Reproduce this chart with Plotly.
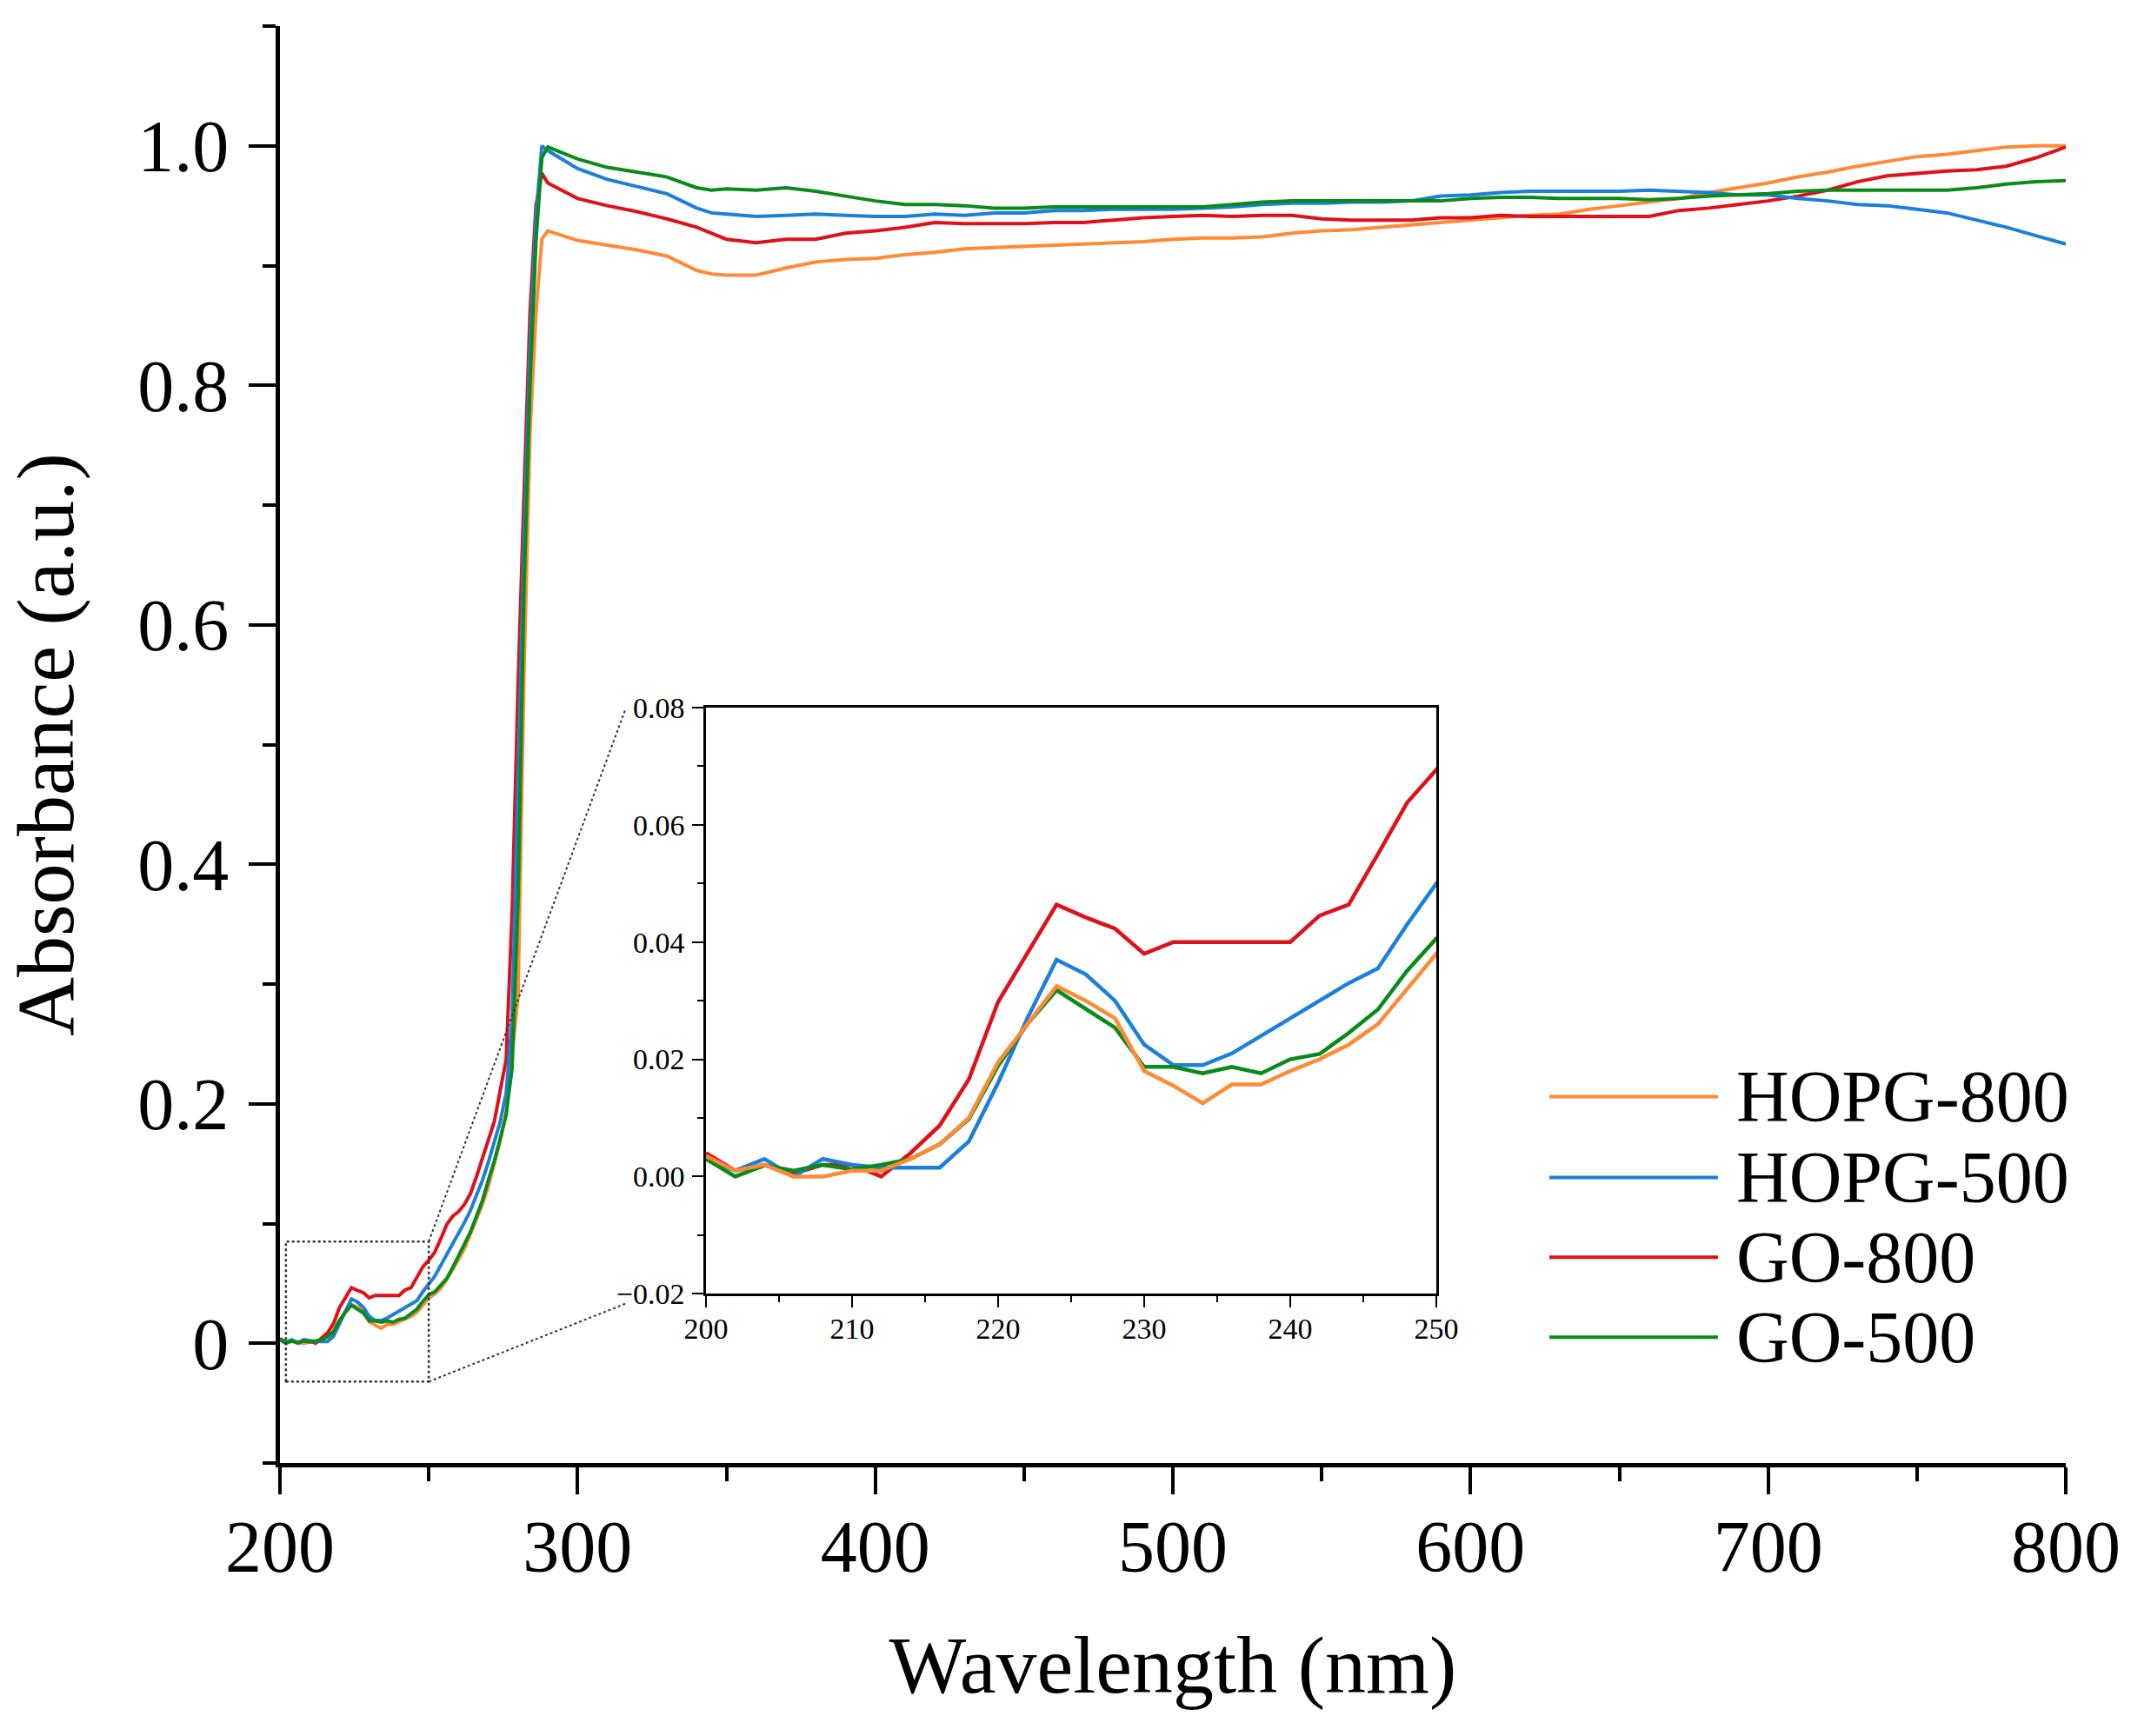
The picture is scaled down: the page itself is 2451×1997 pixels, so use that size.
import plotly.graph_objects as go

# ---------------- data ----------------
wavelength = [200, 202, 204, 206, 208, 210, 212, 214, 216, 218, 220, 222, 224, 226, 228,
              230, 232, 234, 236, 238, 240, 242, 244, 246, 248, 250,
              252, 254, 256, 258, 260, 262, 264, 266, 268, 270, 272, 274, 276, 278, 280,
              282, 284, 286, 288, 290,
              300, 310, 320, 330, 340, 345, 350, 360, 370, 380, 390, 400, 410, 420, 430,
              440, 450, 460, 470, 480, 490, 500, 510, 520, 530, 540, 550, 560, 570, 580,
              590, 600, 610, 620, 630, 640, 650, 660, 670, 680, 690, 700, 710, 720, 730,
              740, 750, 760, 770, 780, 790, 800]

hopg_800 = [0.0035, 0.001, 0.002, 0.000, 0.000, 0.001, 0.001, 0.003, 0.0055, 0.010, 0.0195,
            0.026, 0.0325, 0.030, 0.027, 0.018, 0.0155, 0.0125, 0.0157, 0.0157, 0.018, 0.020,
            0.0225, 0.026, 0.032, 0.038,
            0.041, 0.046, 0.053, 0.061, 0.070, 0.079, 0.091, 0.103, 0.116, 0.131, 0.149,
            0.169, 0.192, 0.24, 0.29, 0.56, 0.76, 0.86, 0.922, 0.929,
            0.921, 0.917, 0.913, 0.908, 0.896, 0.893, 0.892, 0.892, 0.898, 0.903, 0.905,
            0.906, 0.909, 0.911, 0.914, 0.915, 0.916, 0.917, 0.918, 0.919, 0.920, 0.922,
            0.923, 0.923, 0.924, 0.927, 0.929, 0.930, 0.932, 0.934, 0.936, 0.938, 0.940,
            0.942, 0.943, 0.947, 0.950, 0.953, 0.956, 0.961, 0.965, 0.969, 0.974, 0.978,
            0.983, 0.987, 0.991, 0.993, 0.996, 0.999, 1.000, 1.000]

hopg_500 = [0.003, 0.001, 0.003, 0.000, 0.003, 0.002, 0.0015, 0.0015, 0.0015, 0.006, 0.016,
            0.027, 0.037, 0.0345, 0.030, 0.0225, 0.019, 0.019, 0.021, 0.024, 0.027, 0.030,
            0.033, 0.0355, 0.043, 0.050,
            0.056, 0.065, 0.074, 0.083, 0.091, 0.101, 0.111, 0.123, 0.136, 0.151, 0.167,
            0.185, 0.209, 0.27, 0.47, 0.67, 0.83, 0.94, 1.000, 0.996,
            0.981, 0.972, 0.966, 0.960, 0.948, 0.944, 0.943, 0.941, 0.942, 0.943, 0.942,
            0.941, 0.941, 0.943, 0.942, 0.944, 0.944, 0.946, 0.946, 0.947, 0.947, 0.947,
            0.948, 0.949, 0.951, 0.952, 0.952, 0.953, 0.953, 0.954, 0.958, 0.959, 0.961,
            0.962, 0.962, 0.962, 0.962, 0.963, 0.962, 0.961, 0.959, 0.959, 0.956, 0.954,
            0.951, 0.950, 0.947, 0.944, 0.938, 0.932, 0.925, 0.918]

go_800 = [0.004, 0.001, 0.002, 0.0005, 0.002, 0.002, 0.000, 0.004, 0.0087, 0.0166, 0.0298,
          0.038, 0.0464, 0.0442, 0.0423, 0.038, 0.040, 0.040, 0.040, 0.040, 0.040, 0.0445,
          0.0464, 0.055, 0.0638, 0.0694,
          0.076, 0.087, 0.099, 0.106, 0.110, 0.116, 0.125, 0.139, 0.154, 0.169, 0.185,
          0.211, 0.237, 0.36, 0.55, 0.71, 0.86, 0.95, 0.977, 0.969,
          0.956, 0.950, 0.945, 0.939, 0.932, 0.927, 0.922, 0.919, 0.922, 0.922, 0.927,
          0.929, 0.932, 0.936, 0.935, 0.935, 0.935, 0.936, 0.936, 0.938, 0.940, 0.941,
          0.942, 0.941, 0.942, 0.942, 0.939, 0.938, 0.938, 0.938, 0.940, 0.940, 0.942,
          0.941, 0.941, 0.941, 0.941, 0.941, 0.946, 0.948, 0.951, 0.954, 0.958, 0.963,
          0.970, 0.975, 0.977, 0.979, 0.980, 0.983, 0.990, 0.999]

go_500 = [0.003, 0.000, 0.0019, 0.001, 0.002, 0.0012, 0.002, 0.003, 0.0055, 0.0098, 0.0189,
          0.026, 0.0318, 0.0285, 0.0254, 0.0187, 0.0187, 0.0176, 0.0187, 0.0176, 0.020,
          0.0209, 0.0245, 0.0285, 0.0351, 0.0406,
          0.043, 0.048, 0.054, 0.063, 0.073, 0.083, 0.093, 0.106, 0.119, 0.136, 0.152,
          0.171, 0.191, 0.23, 0.37, 0.63, 0.80, 0.92, 0.99, 0.999,
          0.989, 0.982, 0.978, 0.974, 0.965, 0.963, 0.964, 0.963, 0.965, 0.962, 0.958,
          0.954, 0.951, 0.951, 0.950, 0.948, 0.948, 0.949, 0.949, 0.949, 0.949, 0.949,
          0.949, 0.951, 0.953, 0.954, 0.954, 0.954, 0.954, 0.954, 0.954, 0.956, 0.957,
          0.957, 0.956, 0.956, 0.956, 0.955, 0.956, 0.958, 0.959, 0.960, 0.962, 0.963,
          0.963, 0.963, 0.963, 0.963, 0.965, 0.968, 0.970, 0.971]

series_names = ["HOPG-800", "HOPG-500", "GO-800", "GO-500"]
series_values = [hopg_800, hopg_500, go_800, go_500]
series_colors = ["#FF8A35", "#1C7FDC", "#E0101A", "#0A8A1A"]

main_xticks = [200, 300, 400, 500, 600, 700, 800]
main_yticks = [0, 0.2, 0.4, 0.6, 0.8, 1.0]
main_yticklabels = ["0", "0.2", "0.4", "0.6", "0.8", "1.0"]
inset_xticks = [200, 210, 220, 230, 240, 250]
inset_yticks = [-0.02, 0.00, 0.02, 0.04, 0.06, 0.08]

# ---------------- figure geometry (page body margin removed) ----------------
W, H = 2451, 1997
ML, MR, MT, MB = 322, 75, 28, 314
PW, PH = W - ML - MR, H - MT - MB


def px_x(p):
    """image x pixel -> paper fraction"""
    return (p - ML) / PW


def px_y(p):
    """image y pixel -> paper fraction"""
    return (H - MB - p) / PH


FONT = "Liberation Serif, Times New Roman, serif"

fig = go.Figure()

for i in [0, 2, 1, 3]:
    fig.add_trace(go.Scatter(x=wavelength, y=series_values[i], mode="lines",
                             name=series_names[i], showlegend=False,
                             line=dict(color=series_colors[i], width=4),
                             xaxis="x", yaxis="y"))
for i in [2, 1, 3, 0]:
    fig.add_trace(go.Scatter(x=wavelength, y=series_values[i], mode="lines",
                             name=series_names[i], showlegend=False,
                             line=dict(color=series_colors[i], width=4.5),
                             xaxis="x2", yaxis="y2"))

fig.update_layout(
    width=W, height=H,
    margin=dict(l=ML, r=MR, t=MT, b=MB, pad=0),
    paper_bgcolor="white", plot_bgcolor="white",
    font=dict(family=FONT, color="black"),
    xaxis=dict(
        domain=[0, 1], range=[200, 800], anchor="y",
        tickvals=main_xticks, ticks="outside", ticklen=31, tickwidth=4,
        tickcolor="black", showline=True, linewidth=5, linecolor="black",
        showgrid=False, zeroline=False,
        tickfont=dict(family=FONT, size=84), ticklabelstandoff=-12,
        minor=dict(dtick=50, tick0=200, ticks="outside", ticklen=16, tickwidth=4,
                   tickcolor="black", showgrid=False),
        title=dict(text="Wavelength (nm)", font=dict(family=FONT, size=94), standoff=58),
    ),
    yaxis=dict(
        domain=[0, 1], range=[-0.1, 1.1], anchor="x",
        tickvals=main_yticks, ticktext=main_yticklabels, ticks="outside", ticklen=31,
        tickwidth=4, tickcolor="black", showline=True, linewidth=5, linecolor="black",
        showgrid=False, zeroline=False,
        tickfont=dict(family=FONT, size=84), ticklabelstandoff=6,
        minor=dict(dtick=0.1, tick0=0, ticks="outside", ticklen=15, tickwidth=4,
                   tickcolor="black", showgrid=False),
        title=dict(text="Absorbance (a.u.)", font=dict(family=FONT, size=94), standoff=62),
    ),
    xaxis2=dict(
        domain=[px_x(812), px_x(1652)], range=[200, 250], anchor="y2",
        tickvals=inset_xticks, ticks="outside", ticklen=13, tickwidth=2,
        tickcolor="black", showline=True, mirror=True, linewidth=2.5, linecolor="black",
        showgrid=False, zeroline=False,
        tickfont=dict(family=FONT, size=34), ticklabelstandoff=-5,
        minor=dict(dtick=5, tick0=200, ticks="outside", ticklen=7, tickwidth=2,
                   tickcolor="black", showgrid=False),
    ),
    yaxis2=dict(
        domain=[px_y(1488), px_y(813)], range=[-0.02, 0.08], anchor="x2",
        tickvals=inset_yticks, tickformat=".2f", ticks="outside", ticklen=13,
        tickwidth=2, tickcolor="black", showline=True, mirror=True, linewidth=2.5,
        linecolor="black", showgrid=False, zeroline=False,
        tickfont=dict(family=FONT, size=34), ticklabelstandoff=2,
        minor=dict(dtick=0.01, tick0=0, ticks="outside", ticklen=7, tickwidth=2,
                   tickcolor="black", showgrid=False),
    ),
)

# zoom box and connectors (main data coordinates)
fig.add_shape(type="rect", xref="x", yref="y", x0=202, x1=250, y0=-0.032, y1=0.085,
              line=dict(color="#333333", width=2.5, dash="dot"), layer="above")
fig.add_shape(type="line", xref="x", yref="y", x0=250, y0=0.085, x1=316, y1=0.529,
              line=dict(color="#333333", width=2, dash="dot"), layer="above")
fig.add_shape(type="line", xref="x", yref="y", x0=250, y0=-0.032, x1=316, y1=0.033,
              line=dict(color="#333333", width=2, dash="dot"), layer="above")

# legend drawn manually
legend_rows_px = [1261, 1354, 1446, 1538]
for name, color, ypx in zip(series_names, series_colors, legend_rows_px):
    yy = px_y(ypx)
    fig.add_shape(type="line", xref="paper", yref="paper", x0=px_x(1782), x1=px_x(1976),
                  y0=yy, y1=yy, line=dict(color=color, width=4))
    fig.add_annotation(text=name, xref="paper", yref="paper", x=px_x(1995), y=yy,
                       xanchor="left", yanchor="middle", showarrow=False,
                       font=dict(family=FONT, size=84, color="black"))

fig.write_html("out.html",
               config={"displayModeBar": False},
               post_script="document.body.style.margin='0px';"
                           "document.body.style.overflow='hidden';")
